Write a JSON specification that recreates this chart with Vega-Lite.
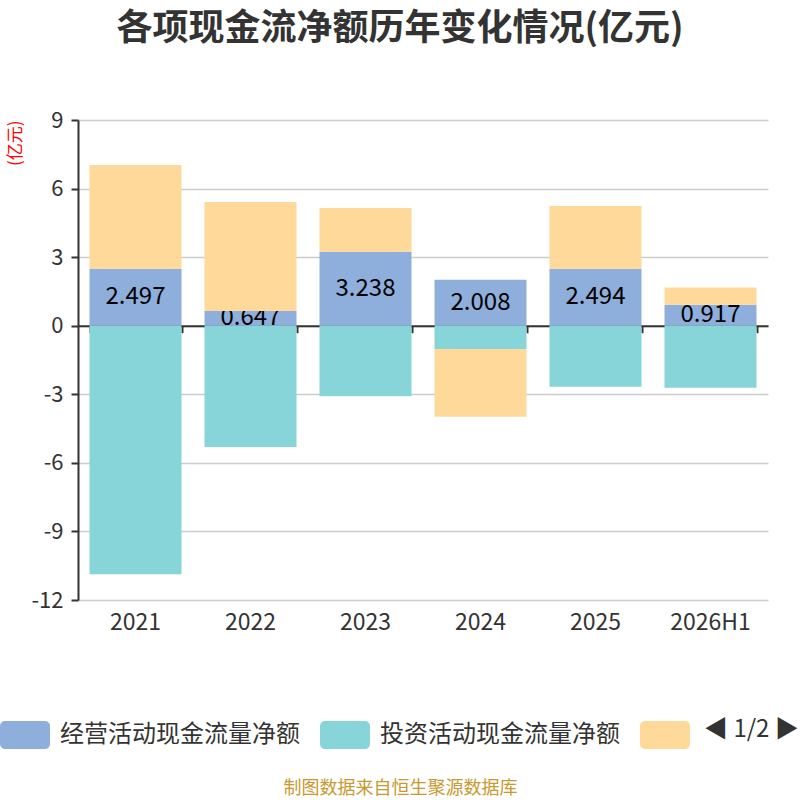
{
  "$schema": "https://vega.github.io/schema/vega-lite/v6.json",
  "width": 690,
  "height": 480,
  "autosize": {"type": "none"},
  "padding": {"left": 78, "top": 120, "right": 32, "bottom": 200},
  "title": {"text": "各项现金流净额历年变化情况(亿元)", "fontSize": 36, "fontWeight": "bold", "color": "#333333", "font": "Noto Sans CJK SC", "anchor": "middle", "frame": "group", "dx": -23, "offset": 61},
  "config": {"font": "Noto Sans CJK SC", "view": {"stroke": null}},
  "data": {"values": [
    {"year": "2021", "type": "经营活动现金流量净额", "k": 1, "value": 2.497},
    {"year": "2021", "type": "投资活动现金流量净额", "k": 2, "value": -10.87},
    {"year": "2021", "type": "筹资活动现金流量净额", "k": 3, "value": 4.53},
    {"year": "2022", "type": "经营活动现金流量净额", "k": 1, "value": 0.647},
    {"year": "2022", "type": "投资活动现金流量净额", "k": 2, "value": -5.31},
    {"year": "2022", "type": "筹资活动现金流量净额", "k": 3, "value": 4.77},
    {"year": "2023", "type": "经营活动现金流量净额", "k": 1, "value": 3.238},
    {"year": "2023", "type": "投资活动现金流量净额", "k": 2, "value": -3.09},
    {"year": "2023", "type": "筹资活动现金流量净额", "k": 3, "value": 1.91},
    {"year": "2024", "type": "经营活动现金流量净额", "k": 1, "value": 2.008},
    {"year": "2024", "type": "投资活动现金流量净额", "k": 2, "value": -1.02},
    {"year": "2024", "type": "筹资活动现金流量净额", "k": 3, "value": -2.96},
    {"year": "2025", "type": "经营活动现金流量净额", "k": 1, "value": 2.494},
    {"year": "2025", "type": "投资活动现金流量净额", "k": 2, "value": -2.67},
    {"year": "2025", "type": "筹资活动现金流量净额", "k": 3, "value": 2.74},
    {"year": "2026H1", "type": "经营活动现金流量净额", "k": 1, "value": 0.917},
    {"year": "2026H1", "type": "投资活动现金流量净额", "k": 2, "value": -2.71},
    {"year": "2026H1", "type": "筹资活动现金流量净额", "k": 3, "value": 0.75}
  ]},
  "transform": [
    {"stack": "value", "groupby": ["year"], "sort": [{"field": "k", "order": "ascending"}], "as": ["v0", "v1"], "offset": "zero"},
    {"calculate": "(datum.v0 + datum.v1) / 2", "as": "mid"}
  ],
  "encoding": {
    "x": {"field": "year", "type": "nominal", "sort": null,
      "scale": {"paddingInner": 0.2, "paddingOuter": 0.1}}
  },
  "layer": [
    {
      "transform": [{"filter": "datum.k == 1"}],
      "mark": {"type": "bar"},
      "encoding": {
        "x": {"field": "year", "type": "nominal", "sort": null,
          "axis": {"orient": "bottom", "title": "制图数据来自恒生聚源数据库", "titleColor": "#c9982e", "titleFontSize": 18, "titleFontWeight": "normal", "titleX": 322, "titleY": 188, "titleAlign": "center", "titleBaseline": "middle",
            "labelAngle": 0, "labelFontSize": 23, "labelColor": "#333333", "labelPadding": 11, "ticks": false, "domain": false, "grid": false}},
        "y": {"field": "v0", "type": "quantitative",
          "scale": {"domain": [-12, 9], "nice": false, "zero": false},
          "axis": {"values": [-12, -9, -6, -3, 0, 3, 6, 9], "labelExpr": "toString(datum.value)", "title": "(亿元)", "titleColor": "#ff0000", "titleFontSize": 17, "titleFontWeight": "normal", "titleAnchor": "end", "titleX": -63, "titleY": 0, "titleAlign": "right", "titleBaseline": "middle",
            "labelFontSize": 22, "labelColor": "#333333", "labelPadding": 8, "tickSize": 7, "tickWidth": 2, "tickColor": "#333333", "domainColor": "#333333", "domainWidth": 2, "gridColor": "#cccccc", "gridWidth": 1.5}},
        "y2": {"field": "v1"},
        "color": {"field": "type", "type": "nominal", "sort": ["经营活动现金流量净额", "投资活动现金流量净额", "筹资活动现金流量净额"],
          "scale": {"domain": ["经营活动现金流量净额", "投资活动现金流量净额", "筹资活动现金流量净额"], "range": ["#8eaedb", "#87d5d8", "#fed99a"]},
          "legend": {"orient": "none", "legendX": -78, "legendY": 590, "direction": "horizontal", "title": "◀ 1/2 ▶", "titleOrient": "right", "titleFontSize": 24, "titleFontWeight": "normal", "titleColor": "#333333", "titlePadding": 4,
            "labelExpr": "datum.label == '筹资活动现金流量净额' ? '' : datum.label", "labelFontSize": 24, "labelColor": "#333333", "labelOffset": 10, "labelLimit": 400, "columnPadding": 20,
            "symbolType": "M-0.8,-0.56H0.8A0.2,0.2 0 0 1 1,-0.36V0.36A0.2,0.2 0 0 1 0.8,0.56H-0.8A0.2,0.2 0 0 1 -1,0.36V-0.36A0.2,0.2 0 0 1 -0.8,-0.56Z", "symbolSize": 2500, "symbolStrokeWidth": 0, "symbolOpacity": 1}}
      }
    },
    {
      "transform": [{"filter": "datum.k == 1"}],
      "mark": {"type": "text", "fontSize": 24, "color": "#000000", "baseline": "middle", "align": "center"},
      "encoding": {
        "x": {"field": "year", "type": "nominal", "sort": null, "axis": null},
        "y": {"field": "mid", "type": "quantitative"},
        "text": {"field": "value", "type": "quantitative", "format": ".3f"}
      }
    },
    {
      "transform": [{"filter": "datum.k != 1"}],
      "mark": {"type": "bar"},
      "encoding": {
        "x": {"field": "year", "type": "nominal", "sort": null,
          "axis": {"orient": "bottom", "offset": -274.3, "title": null, "labels": false, "grid": false, "tickBand": "extent", "tickSize": 7, "tickWidth": 2, "tickColor": "#333333", "domainColor": "#333333", "domainWidth": 2}},
        "y": {"field": "v0", "type": "quantitative"},
        "y2": {"field": "v1"},
        "color": {"field": "type", "type": "nominal"}
      }
    }
  ],
  "resolve": {"axis": {"x": "independent"}}
}
